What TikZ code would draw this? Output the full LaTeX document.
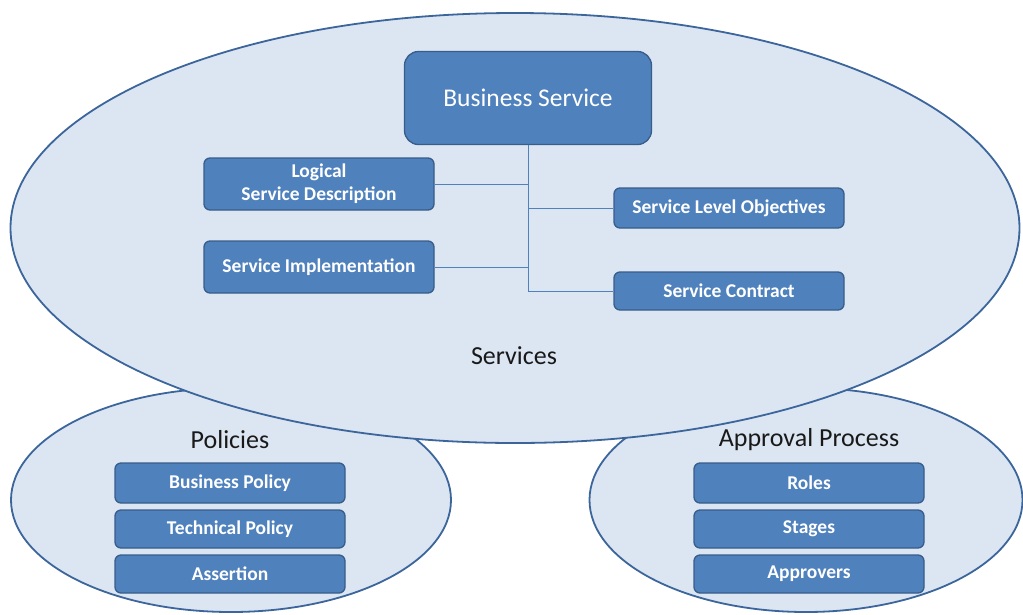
\documentclass[tikz,border=0pt]{standalone}
\usepackage{fontspec}
\setmainfont{Carlito}
\usetikzlibrary{shapes.geometric,positioning}
\definecolor{boxfill}{HTML}{4F81BD}
\definecolor{boxline}{HTML}{385D8A}
\definecolor{areafill}{HTML}{DCE6F2}
\definecolor{arealine}{HTML}{3B659B}
\begin{document}
\begin{tikzpicture}[x=1pt,y=-1pt,
      area/.style={ellipse, draw=arealine, fill=areafill, line width=1.8pt},
      svcbox/.style={rectangle, draw=boxline, fill=boxfill, line width=1.3pt, rounded corners=6pt, minimum width=230pt, minimum height=40pt, text=white, font=\fontsize{19.5}{23}\selectfont\bfseries, align=center, inner sep=2pt},
      bigbox/.style={svcbox, rounded corners=14pt, minimum width=247pt, minimum height=93pt, font=\fontsize{25.5}{30}\selectfont},
      arealabel/.style={font=\fontsize{26}{30}\selectfont, text=black!90},
      link/.style={draw=boxfill, line width=0.9pt}
    ]
      \useasboundingbox (0,0) rectangle (1023,614);

      % Lower areas
      \node[area, minimum width=440pt, minimum height=224pt] (policies) at (231,500) {};
      \node[area, minimum width=433pt, minimum height=224pt] (approval) at (806,500) {};

      % Services area
      \node[area, minimum width=1009pt, minimum height=430pt] (services) at (515,228) {};
      \node[arealabel] (serviceslabel) at (514,356) {Services};

      % Service boxes
      \node[bigbox] (business) at (528,98) {Business Service};
      \node[svcbox, minimum height=52pt] (logical) at (319,184) {Logical\\Service Description};
      \node[svcbox, minimum height=52pt] (impl) at (319,267) {Service Implementation};
      \node[svcbox] (objectives) at (729,208) {Service Level Objectives};
      \node[svcbox, minimum height=38pt] (contract) at (729,291) {Service Contract};

      % Links
      \coordinate (trunkend) at (business.south |- contract.west);
      \draw[link] (business.south) -- (trunkend) -- (contract.west);
      \draw[link] (logical.east) -- (logical.east -| business.south);
      \draw[link] (impl.east) -- (impl.east -| business.south);
      \draw[link] (objectives.west -| business.south) -- (objectives.west);

      % Policies
      \node[arealabel] (policieslabel) at (230,440) {Policies};
      \node[svcbox] (buspolicy) at (230,483) {Business Policy};
      \node[svcbox, minimum height=38pt] (techpolicy) at (230,529) {Technical Policy};
      \node[svcbox, minimum height=38pt] (assertion) at (230,574) {Assertion};

      % Approval process
      \node[arealabel] (approvallabel) at (809,440) {Approval Process};
      \node[svcbox] (roles) at (809,483) {Roles};
      \node[svcbox, minimum height=38pt] (stages) at (809,529) {Stages};
      \node[svcbox, minimum height=38pt] (approvers) at (809,574) {Approvers};

    \end{tikzpicture}
\end{document}
